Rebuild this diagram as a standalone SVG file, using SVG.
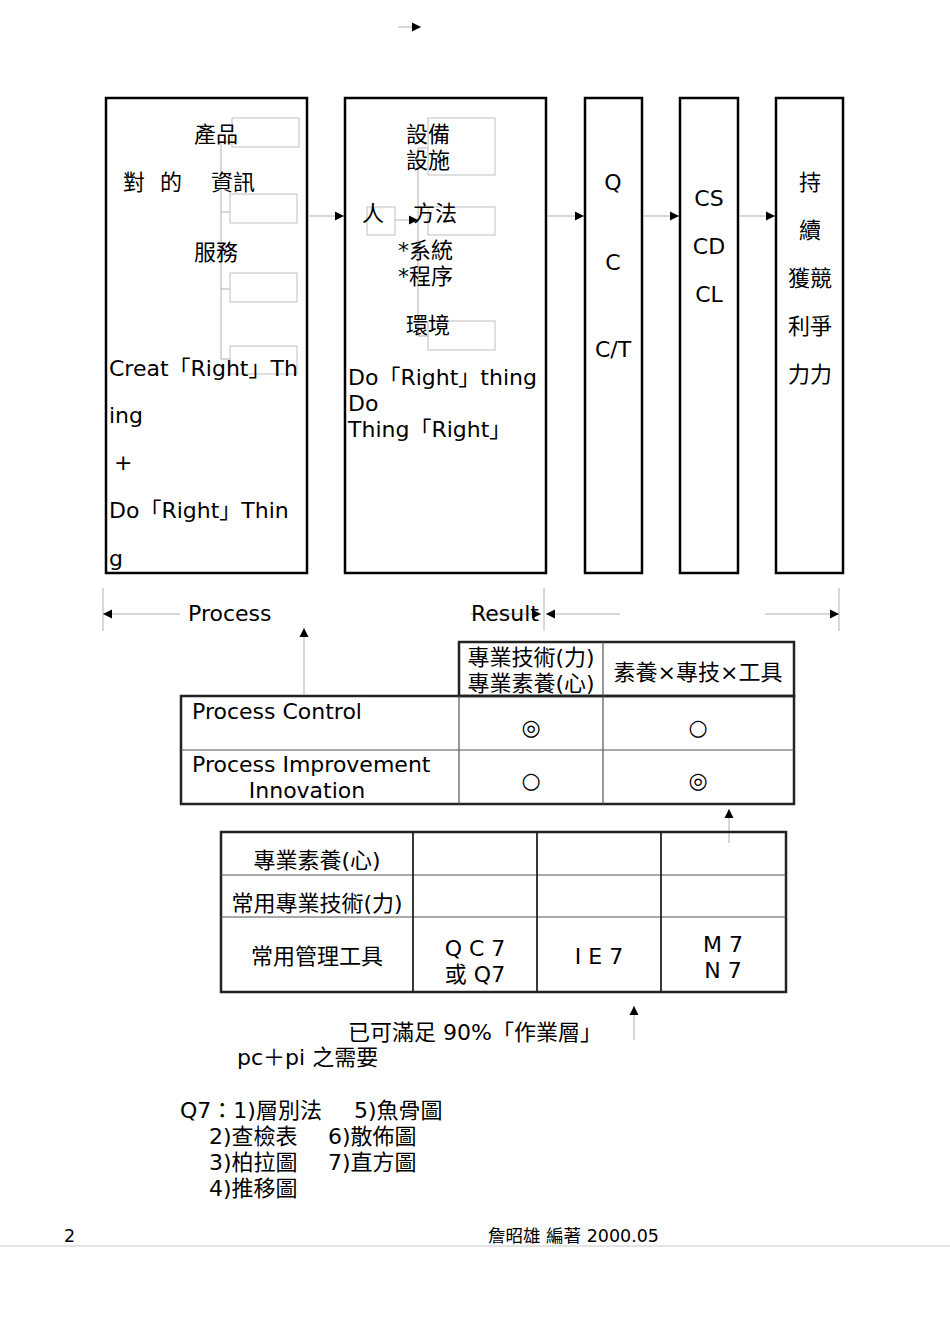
<svg xmlns="http://www.w3.org/2000/svg" width="950" height="1344" viewBox="0 0 950 1344">
<style>
text{font-family:"DejaVu Sans","Noto Sans CJK TC",sans-serif;font-size:22px;fill:#000}
.c{text-anchor:middle}
.sm{font-size:17.5px}
.box{fill:none;stroke:#000;stroke-width:2.5}
.gb{fill:none;stroke:#c0c0c0;stroke-width:1}
.gl{fill:none;stroke:#b0b0b0;stroke-width:1}
.tl{stroke:#555;stroke-width:1.2}
.tk{fill:none;stroke:#222;stroke-width:2.5}
</style>
<defs>
<marker id="ah" markerUnits="userSpaceOnUse" markerWidth="10" markerHeight="10" refX="9" refY="5" orient="auto">
<path d="M0,0.5 L9,5 L0,9.5 Z" fill="#000"/>
</marker>
</defs>
<rect width="950" height="1344" fill="#fff"/>

<g id="connectors">
<line class="gl" x1="398" y1="27" x2="421" y2="27" marker-end="url(#ah)"/>
<line class="gl" x1="309" y1="216" x2="344" y2="216" marker-end="url(#ah)"/>
<line class="gl" x1="548" y1="216" x2="584" y2="216" marker-end="url(#ah)"/>
<line class="gl" x1="644" y1="216" x2="679" y2="216" marker-end="url(#ah)"/>
<line class="gl" x1="740" y1="216" x2="775" y2="216" marker-end="url(#ah)"/>
<line class="gl" x1="395" y1="220" x2="418" y2="220" marker-end="url(#ah)"/>
<line class="gl" x1="103" y1="588" x2="103" y2="631"/>
<line class="gl" x1="544" y1="588" x2="544" y2="631"/>
<line class="gl" x1="839" y1="588" x2="839" y2="631"/>
<line class="gl" x1="180" y1="614" x2="103" y2="614" marker-end="url(#ah)"/>
<line class="gl" x1="470" y1="614" x2="541" y2="614" marker-end="url(#ah)"/>
<line class="gl" x1="620" y1="614" x2="546" y2="614" marker-end="url(#ah)"/>
<line class="gl" x1="765" y1="614" x2="839" y2="614" marker-end="url(#ah)"/>
<line class="gl" x1="304" y1="696" x2="304" y2="628" marker-end="url(#ah)"/>
<line class="gl" x1="729" y1="843" x2="729" y2="809" marker-end="url(#ah)"/>
<line class="gl" x1="634" y1="1040" x2="634" y2="1006" marker-end="url(#ah)"/>
</g>

<g id="box1">
<rect class="box" x="106" y="98" width="201" height="475"/>
<line class="gl" x1="221" y1="142" x2="221" y2="359"/>
<line class="gl" x1="221" y1="142" x2="232" y2="142"/>
<line class="gl" x1="221" y1="212" x2="230" y2="212"/>
<line class="gl" x1="221" y1="289" x2="230" y2="289"/>
<line class="gl" x1="221" y1="359" x2="230" y2="359"/>
<rect class="gb" x="232" y="118" width="67" height="29"/>
<rect class="gb" x="230" y="194" width="67" height="29"/>
<rect class="gb" x="230" y="273" width="67" height="29"/>
<rect class="gb" x="230" y="346" width="67" height="28"/>
<text x="194" y="142">產品</text>
<text x="123" y="190">對</text>
<text x="160" y="190">的</text>
<text x="211" y="190">資訊</text>
<text x="194" y="260">服務</text>
<text x="109" y="376">Creat「Right」Th</text>
<text x="109" y="423">ing</text>
<text x="114" y="470">+</text>
<text x="109" y="518">Do「Right」Thin</text>
<text x="109" y="566">g</text>
</g>

<g id="box2">
<rect class="box" x="345" y="98" width="201" height="475"/>
<line class="gl" x1="418" y1="148" x2="418" y2="336"/>
<line class="gl" x1="418" y1="148" x2="428" y2="148"/>
<line class="gl" x1="418" y1="336" x2="428" y2="336"/>
<rect class="gb" x="428" y="118" width="67" height="57"/>
<rect class="gb" x="367" y="207" width="28" height="28"/>
<rect class="gb" x="428" y="207" width="67" height="28"/>
<rect class="gb" x="428" y="321" width="67" height="29"/>
<text x="406" y="142">設備</text>
<text x="406" y="168">設施</text>
<text x="362" y="221">人</text>
<text x="413" y="221">方法</text>
<text x="398" y="258">*系統</text>
<text x="398" y="284">*程序</text>
<text x="406" y="333">環境</text>
<text x="348" y="385">Do「Right」thing</text>
<text x="348" y="411">Do</text>
<text x="348" y="437">Thing「Right」</text>
</g>

<g id="box3">
<rect class="box" x="585" y="98" width="57" height="475"/>
<text class="c" x="613" y="190">Q</text>
<text class="c" x="613" y="270">C</text>
<text class="c" x="613" y="357">C/T</text>
</g>

<g id="box4">
<rect class="box" x="680" y="98" width="58" height="475"/>
<text class="c" x="709" y="206">CS</text>
<text class="c" x="709" y="254">CD</text>
<text class="c" x="709" y="302">CL</text>
</g>

<g id="box5">
<rect class="box" x="776" y="98" width="67" height="475"/>
<text class="c" x="810" y="190">持</text>
<text class="c" x="810" y="238">續</text>
<text class="c" x="810" y="286">獲競</text>
<text class="c" x="810" y="334">利爭</text>
<text class="c" x="810" y="382">力力</text>
</g>

<g id="labels-row">
<text x="188" y="621">Process</text>
<text x="471" y="621">Result</text>
</g>

<g id="table1">
<rect class="tk" x="459" y="642" width="335" height="54"/>
<rect class="tk" x="181" y="696" width="613" height="108"/>
<line class="tl" x1="603" y1="642" x2="603" y2="804"/>
<line class="tl" x1="459" y1="696" x2="459" y2="804"/>
<line class="tl" x1="181" y1="750" x2="794" y2="750"/>
<text class="c" x="531" y="665">專業技術(力)</text>
<text class="c" x="531" y="691">專業素養(心)</text>
<text class="c" x="698" y="680">素養×專技×工具</text>
<text x="192" y="719">Process Control</text>
<text class="c" x="531" y="735">◎</text>
<text class="c" x="698" y="735">○</text>
<text x="192" y="772">Process Improvement</text>
<text class="c" x="307" y="798">Innovation</text>
<text class="c" x="531" y="788">○</text>
<text class="c" x="698" y="788">◎</text>
</g>

<g id="table2">
<rect class="tk" x="221" y="832" width="565" height="160"/>
<line class="tl" x1="221" y1="875" x2="786" y2="875"/>
<line class="tl" x1="221" y1="917" x2="786" y2="917"/>
<line class="tk" x1="413" y1="832" x2="413" y2="992" style="stroke-width:1.8"/>
<line class="tk" x1="537" y1="832" x2="537" y2="992" style="stroke-width:1.8"/>
<line class="tk" x1="661" y1="832" x2="661" y2="992" style="stroke-width:1.8"/>
<text class="c" x="317" y="868">專業素養(心)</text>
<text class="c" x="317" y="911">常用專業技術(力)</text>
<text class="c" x="317" y="964">常用管理工具</text>
<text class="c" x="475" y="956">Q C 7</text>
<text class="c" x="475" y="982">或 Q7</text>
<text class="c" x="599" y="964">I E 7</text>
<text class="c" x="723" y="952">M 7</text>
<text class="c" x="723" y="978">N 7</text>
</g>

<g id="notes">
<text x="348" y="1040">已可滿足 90%「作業層」</text>
<text x="237" y="1065">pc＋pi 之需要</text>
<text x="180" y="1118">Q7：1)層別法</text>
<text x="354" y="1118">5)魚骨圖</text>
<text x="209" y="1144">2)查檢表</text>
<text x="328" y="1144">6)散佈圖</text>
<text x="209" y="1170">3)柏拉圖</text>
<text x="328" y="1170">7)直方圖</text>
<text x="209" y="1196">4)推移圖</text>
</g>

<g id="footer">
<line x1="0" y1="1246" x2="950" y2="1246" stroke="#c8c8c8" stroke-width="1"/>
<text class="sm" x="64" y="1242">2</text>
<text class="sm" x="488" y="1242">詹昭雄 編著 2000.05</text>
</g>
</svg>
